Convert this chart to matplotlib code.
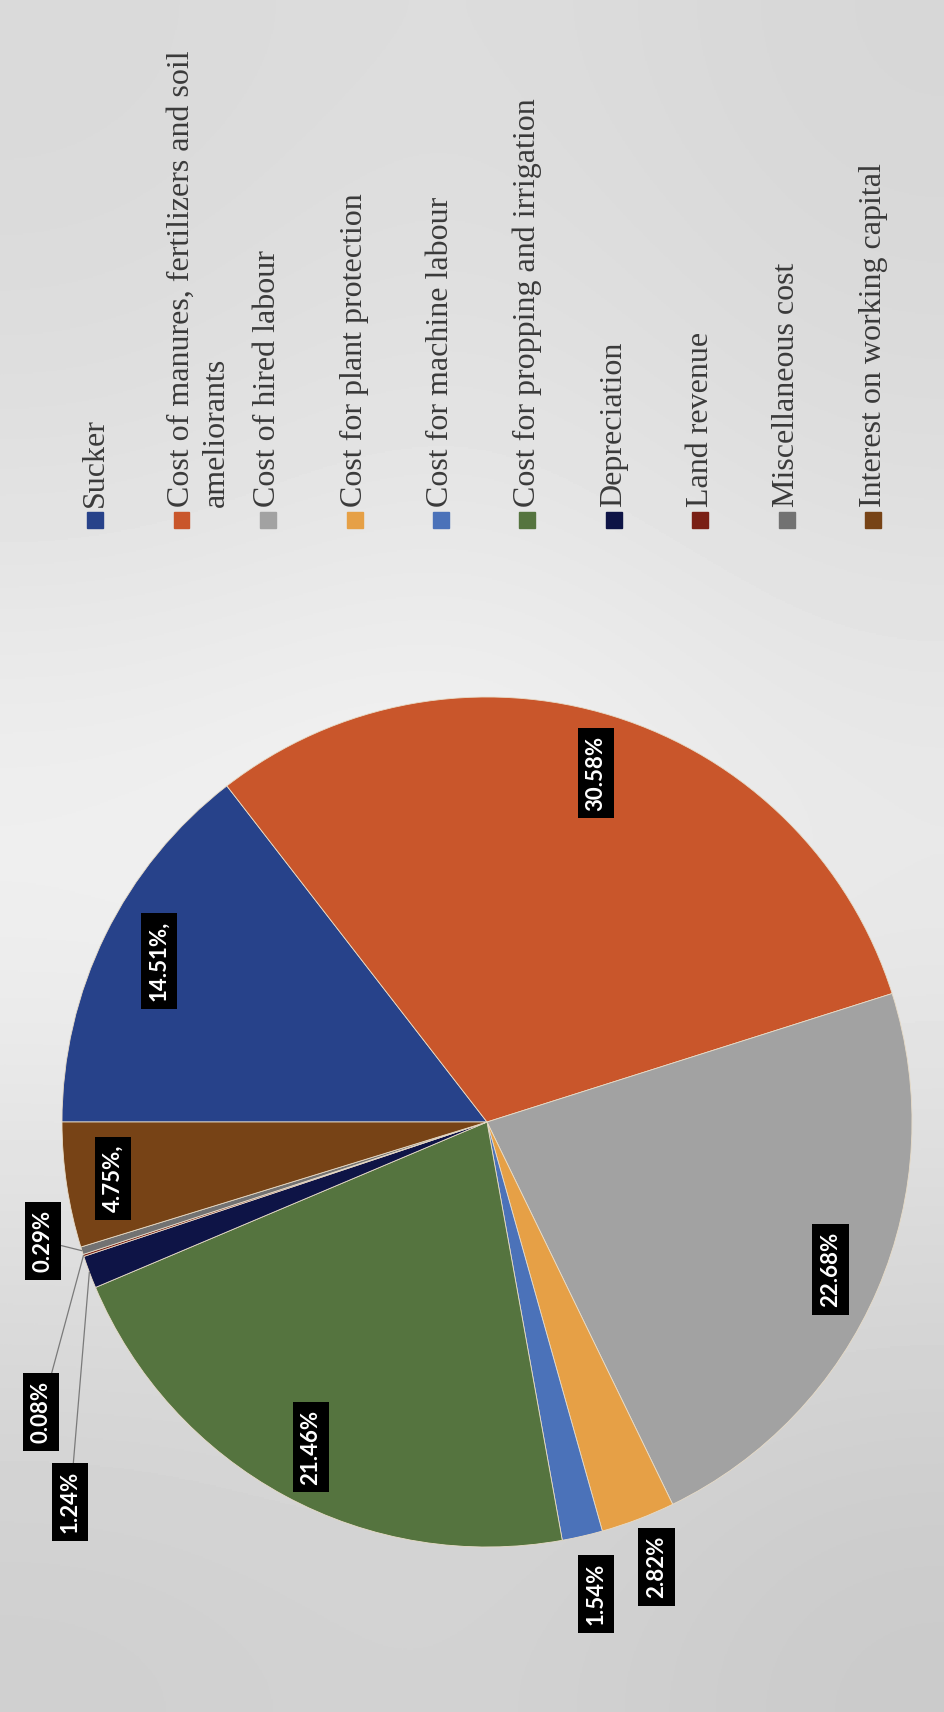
import numpy as np
import matplotlib.pyplot as plt
from matplotlib.patches import Rectangle

# cost components (share of total cost, %)
categories = ["Sucker",
              "Cost of manures, fertilizers and soil\nameliorants",
              "Cost of hired labour",
              "Cost for plant protection",
              "Cost for machine labour",
              "Cost for propping and irrigation",
              "Depreciation",
              "Land revenue",
              "Miscellaneous cost",
              "Interest on working capital"]
shares = [14.51, 30.58, 22.68, 2.82, 1.54, 21.46, 1.24, 0.08, 0.29, 4.75]
pct_labels = ["14.51%,", "30.58%", "22.68%", "2.82%", "1.54%",
              "21.46%", "1.24%", "0.08%", "0.29%", "4.75%,"]

colors = ["#27428a", "#c9562b", "#a2a2a2", "#e6a046", "#4b72b9",
          "#55743f", "#0e1446", "#7a1f14", "#727272", "#774316"]

# label placement: distance from centre for labels that sit on the wedge
label_r = [0.86, 0.86, 0.88, 1.12, 1.14, 0.87, None, None, None, 0.89]
# labels pulled out with a leader line
leader_pos = {6: (-0.981, -0.894), 7: (-1.049, -0.682), 8: (-1.045, -0.280)}

W, H = 945, 1712
cx, cy, R = 487, 1122, 425   # pie centre / radius in pixels

fig = plt.figure(figsize=(W / 100, H / 100), dpi=100)

# photo-like background shading
bg = fig.add_axes([0, 0, 1, 1])
shade = np.array([[0.85, 0.87, 0.84],
                  [0.88, 0.91, 0.87],
                  [0.96, 0.98, 0.93],
                  [0.88, 0.88, 0.86],
                  [0.81, 0.83, 0.79]])
bg.imshow(shade, cmap="gray", vmin=0, vmax=1, extent=(0, 1, 0, 1),
          aspect="auto", interpolation="bicubic")
bg.axis("off")

ax = fig.add_axes([0, 0, 1, 1])
ax.patch.set_alpha(0)

wedges, _ = ax.pie(shares, colors=colors, startangle=180, counterclock=False,
                   radius=1, wedgeprops=dict(linewidth=0.6, edgecolor="#e8dcc8"))

ax.set_xlim(-cx / R, (W - cx) / R)
ax.set_ylim(-(H - cy) / R, cy / R)
ax.set_aspect("equal")
ax.axis("off")

box = dict(boxstyle="square,pad=0.35", fc="black", ec="none")
for i, (w, lab) in enumerate(zip(wedges, pct_labels)):
    mid = np.deg2rad((w.theta1 + w.theta2) / 2)
    kw = dict(rotation=90, ha="center", va="center", color="white",
              fontsize=16, fontweight="bold", family="Lato", bbox=box)
    if i in leader_pos:
        ax.annotate(lab, xy=(np.cos(mid), np.sin(mid)), xytext=leader_pos[i],
                    arrowprops=dict(arrowstyle="-", color="#7a7a7a", lw=0.9,
                                    shrinkA=0, shrinkB=0), **kw)
    else:
        r = label_r[i]
        ax.text(r * np.cos(mid), r * np.sin(mid), lab, **kw)

# legend drawn by hand: rotated entries along the top
lx0 = (95 - cx) / R
lstep = 86.5 / R
ly = (cy - 520) / R
sq = 16 / R
ty = (cy - 507) / R
line_step = 35 / R
for i, (name, col) in enumerate(zip(categories, colors)):
    x = lx0 + i * lstep
    ax.add_patch(Rectangle((x - sq / 2, ly - sq / 2), sq, sq, color=col))
    for j, line in enumerate(name.split("\n")):
        ax.text(x + j * line_step, ty, line, rotation=90, rotation_mode="anchor",
                ha="left", va="center", fontsize=23, family="Liberation Serif",
                color="#3a3a3a")

fig.savefig("out.png", dpi=100)
